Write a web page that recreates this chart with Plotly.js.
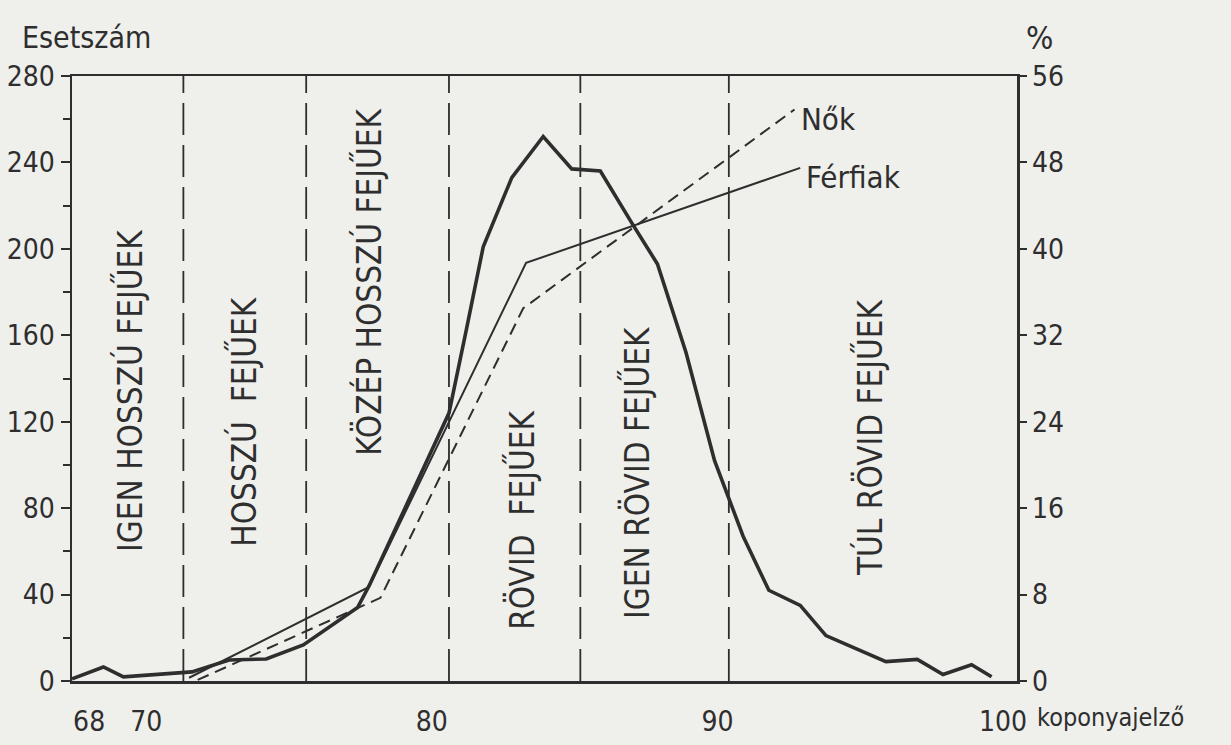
<!DOCTYPE html>
<html>
<head>
<meta charset="utf-8">
<script src="https://cdn.plot.ly/plotly-3.0.1.min.js"></script>
<style>
  html, body { margin: 0; padding: 0; background: #efefec; }
  #chart { width: 1231px; height: 745px; }
</style>
</head>
<body>
<div id="chart"></div>
<script>
// ---- data ----
const indexX = [67.4, 68.5, 69.2, 71.6, 72.9, 74.2, 75.5, 76.4, 77.4, 77.8, 80.6, 81.2, 81.8, 82.8, 83.9, 84.9, 85.9, 87.0, 87.9, 88.9, 89.9, 90.9, 91.8, 92.9, 93.8, 95.9, 97.0, 97.9, 98.9, 99.6];
const esetszam = [1, 6.5, 1.9, 4.2, 9.7, 10.2, 16.7, 25, 34, 44, 124, 162, 201, 233, 252, 237, 236, 212, 193, 152, 102, 67, 42, 35, 21, 9, 10, 3, 7.5, 2];

const ferfiX = [71.5, 77.8, 83.3, 92.9];
const ferfiPct = [0.3, 8.7, 38.7, 47.5];

const nokX = [71.8, 78.2, 83.2, 92.7];
const nokPct = [0.1, 7.7, 34.5, 52.9];

const boundaries = [71.3, 75.6, 80.6, 85.2, 90.4];

const categoryLabels = ["IGEN HOSSZÚ FEJŰEK", "HOSSZÚ\u00a0 FEJŰEK", "KÖZÉP HOSSZÚ FEJŰEK", "RÖVID\u00a0 FEJŰEK", "IGEN RÖVID FEJŰEK", "TÚL RÖVID FEJŰEK"];
const xTicks = [68, 70, 80, 90, 100];
const leftTicks = [0, 40, 80, 120, 160, 200, 240, 280];
const rightTicks = [0, 8, 16, 24, 32, 40, 48, 56];

// ---- drawing ----
const INK = '#2e2e2e';
const FONT = '"DejaVu Sans Condensed", "Liberation Sans Narrow", "DejaVu Sans", sans-serif';

const traces = [];
boundaries.forEach(b => {
  traces.push({
    x: [b, b], y: [0, 280], mode: 'lines', xaxis: 'x', yaxis: 'y',
    line: { color: INK, width: 1.8, dash: '32px,10px' },
    hoverinfo: 'skip', showlegend: false
  });
});
traces.push({
  x: indexX, y: esetszam, mode: 'lines', xaxis: 'x', yaxis: 'y',
  line: { color: INK, width: 3.6 }, name: 'Esetszám', showlegend: false
});
traces.push({
  x: ferfiX, y: ferfiPct, mode: 'lines', xaxis: 'x', yaxis: 'y2',
  line: { color: INK, width: 2 }, name: 'Férfiak', showlegend: false
});
traces.push({
  x: nokX, y: nokPct, mode: 'lines', xaxis: 'x', yaxis: 'y2',
  line: { color: INK, width: 2, dash: '12px,7px' }, name: 'Nők', showlegend: false
});

const labelPos = [[69.43, 134.7], [73.42, 120], [77.79, 184.6], [83.15, 74.5], [87.18, 96.7], [95.35, 113]];
const annotations = categoryLabels.map((t, i) => ({
  text: t, x: labelPos[i][0], y: labelPos[i][1], xref: 'x', yref: 'y',
  textangle: -90, showarrow: false, xanchor: 'center', yanchor: 'middle',
  font: { family: FONT, size: 33, color: INK }
}));
annotations.push({
  text: 'Nők', x: nokX[nokX.length - 1], y: nokPct[nokPct.length - 1], xref: 'x', yref: 'y2',
  xanchor: 'left', yanchor: 'middle', showarrow: false, xshift: 4, yshift: -10,
  font: { family: FONT, size: 31, color: INK }
});
annotations.push({
  text: 'Férfiak', x: ferfiX[ferfiX.length - 1], y: ferfiPct[ferfiPct.length - 1], xref: 'x', yref: 'y2',
  xanchor: 'left', yanchor: 'middle', showarrow: false, xshift: 4, yshift: -9,
  font: { family: FONT, size: 31, color: INK }
});
annotations.push({
  text: 'Esetszám', x: -0.055, y: 1.063, xref: 'paper', yref: 'paper',
  xanchor: 'left', yanchor: 'middle', showarrow: false,
  font: { family: FONT, size: 30, color: INK }
});
annotations.push({
  text: '%', x: 1.0243, y: 1.063, xref: 'paper', yref: 'paper',
  xanchor: 'center', yanchor: 'middle', showarrow: false,
  font: { family: FONT, size: 32, color: INK }
});
annotations.push({
  text: 'koponyajelző', x: 1.019, y: -0.061, xref: 'paper', yref: 'paper',
  xanchor: 'left', yanchor: 'middle', showarrow: false,
  font: { family: FONT, size: 25, color: INK }
});

const layout = {
  width: 1231, height: 745,
  paper_bgcolor: '#efefec', plot_bgcolor: '#efefec',
  margin: { l: 72, r: 214, t: 76, b: 64, pad: 0 },
  showlegend: false,
  font: { family: FONT, size: 28, color: INK },
  xaxis: {
    range: [67.4, 100.49], showline: true, linecolor: INK, linewidth: 2.5, mirror: true,
    ticks: '', tickmode: 'array', tickvals: xTicks, ticktext: xTicks.map(String),
    tickfont: { family: FONT, size: 28, color: INK },
    ticklabelstandoff: 14, showgrid: false, zeroline: false
  },
  yaxis: {
    range: [0, 280], showline: true, linecolor: INK, linewidth: 2.5,
    ticks: 'outside', ticklen: 9, tickwidth: 2, tickcolor: INK,
    tickmode: 'array', tickvals: leftTicks, ticktext: leftTicks.map(String),
    tickfont: { family: FONT, size: 28, color: INK },
    minor: { tickmode: 'array', tickvals: [20, 60, 100, 140, 180, 220, 260], ticks: 'outside', ticklen: 7, tickwidth: 2, tickcolor: INK, showgrid: false },
    showgrid: false, zeroline: false
  },
  yaxis2: {
    range: [0, 56], overlaying: 'y', side: 'right', showline: true, linecolor: INK, linewidth: 2.5,
    ticks: 'outside', ticklen: 7, tickwidth: 2, tickcolor: INK,
    tickmode: 'array', tickvals: rightTicks, ticktext: rightTicks.map(String),
    tickfont: { family: FONT, size: 28, color: INK },
    showgrid: false, zeroline: false
  },
  annotations: annotations
};

Plotly.newPlot('chart', traces, layout, { staticPlot: true, displayModeBar: false });
</script>
</body>
</html>
